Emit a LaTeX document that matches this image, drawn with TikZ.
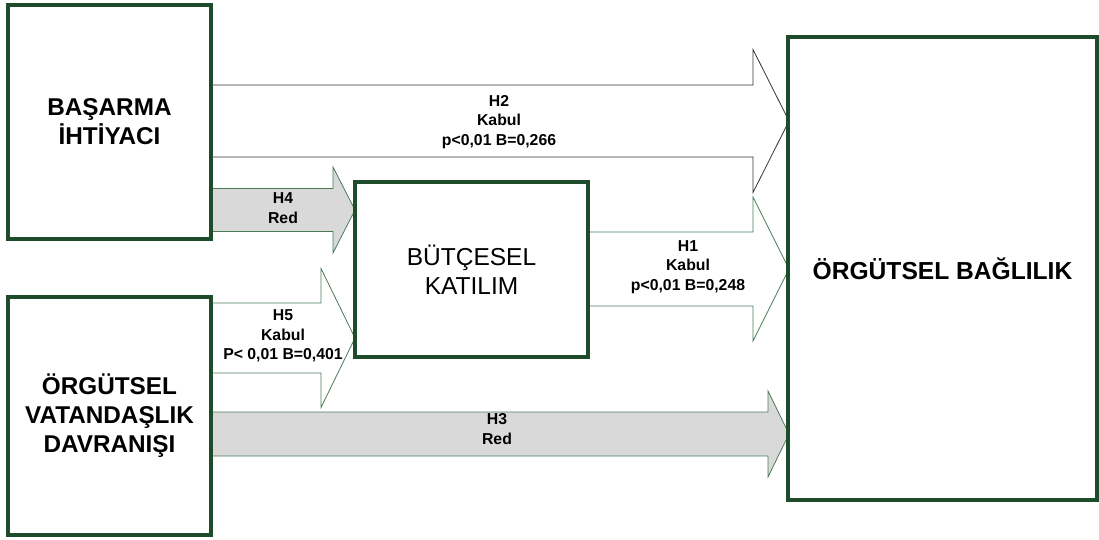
\documentclass[tikz,border=0pt]{standalone}
\usepackage{fontspec}
\setmainfont{Liberation Sans}
\usetikzlibrary{calc}

\definecolor{boxgreen}{HTML}{1E4B2A}
\definecolor{linegreen}{HTML}{4A7A58}
\definecolor{arrowgray}{HTML}{D9D9D9}

% block arrow: style, start, tip, shaft half, head half, head length
\newcommand{\hypoarrow}[6]{%
	\draw[#1] ($(#2)+(0,-#4)$) -- ($(#3)+(-#6,-#4)$) -- ($(#3)+(-#6,-#5)$) -- (#3)
	-- ($(#3)+(-#6,#5)$) -- ($(#3)+(-#6,#4)$) -- ($(#2)+(0,#4)$);}

\begin{document}
\begin{tikzpicture}[x=1pt,y=-1pt,
		varbox/.style={draw=boxgreen, line width=4pt, fill=white, align=center, inner sep=0pt},
		bigtext/.style={font=\fontsize{24.3}{29}\selectfont\bfseries},
		hyplabel/.style={font=\fontsize{15.8}{19.5}\selectfont\bfseries, align=center, inner sep=0pt},
		openarrow/.style={draw=linegreen, line width=0.8pt, fill=white},
		redarrow/.style={draw=linegreen, line width=0.8pt, fill=arrowgray}]
	\useasboundingbox (0,0) rectangle (1099,540);
	
	% Fixed coordinates
	\coordinate (h2s) at (211,121);
	\coordinate (h2e) at (789,121);
	\coordinate (h4s) at (211,210);
	\coordinate (h4e) at (355,210);
	\coordinate (h5s) at (211,338);
	\coordinate (h5e) at (355,338);
	\coordinate (h1s) at (588,269);
	\coordinate (h1e) at (789,269);
	\coordinate (h3s) at (211,434);
	\coordinate (h3e) at (789,434);
	
	% Hypothesis arrows
	\hypoarrow{openarrow, draw=black!80}{h2s}{h2e}{36}{71.5}{36}
	\hypoarrow{redarrow}{h4s}{h4e}{21.5}{43}{22}
	\hypoarrow{openarrow}{h5s}{h5e}{35}{69.5}{34}
	\hypoarrow{openarrow}{h1s}{h1e}{37}{72}{36}
	\hypoarrow{redarrow}{h3s}{h3e}{22}{43}{21}
	
	% Variable boxes
	\node (basarma) at (109.5,122) [varbox, bigtext, minimum width=203pt, minimum height=234pt] {BAŞARMA\\İHTİYACI};
	\node (vatandas) at (109.5,416) [varbox, bigtext, minimum width=203pt, minimum height=238pt] {ÖRGÜTSEL\\VATANDAŞLIK\\DAVRANIŞI};
	\node (butce) at (471.5,269.5) [varbox, font=\fontsize{24.5}{28.5}\selectfont, minimum width=233pt, minimum height=175pt] {BÜTÇESEL\\KATILIM};
	\node (baglilik) at (942.5,268.5) [varbox, font=\fontsize{24.6}{29}\selectfont\bfseries, minimum width=309pt, minimum height=463pt] {ÖRGÜTSEL BAĞLILIK};
	
	% Labels
	\node (l2) at (499,122) [hyplabel] {H2\\Kabul\\p<0,01 B=0,266};
	\node (l4) at (283,208) [hyplabel] {H4\\Red};
	\node (l5) at (283,336) [hyplabel] {H5\\Kabul\\P< 0,01 B=0,401};
	\node (l1) at (688,267) [hyplabel] {H1\\Kabul\\p<0,01 B=0,248};
	\node (l3) at (497,429) [hyplabel] {H3\\Red};
\end{tikzpicture}
\end{document}
